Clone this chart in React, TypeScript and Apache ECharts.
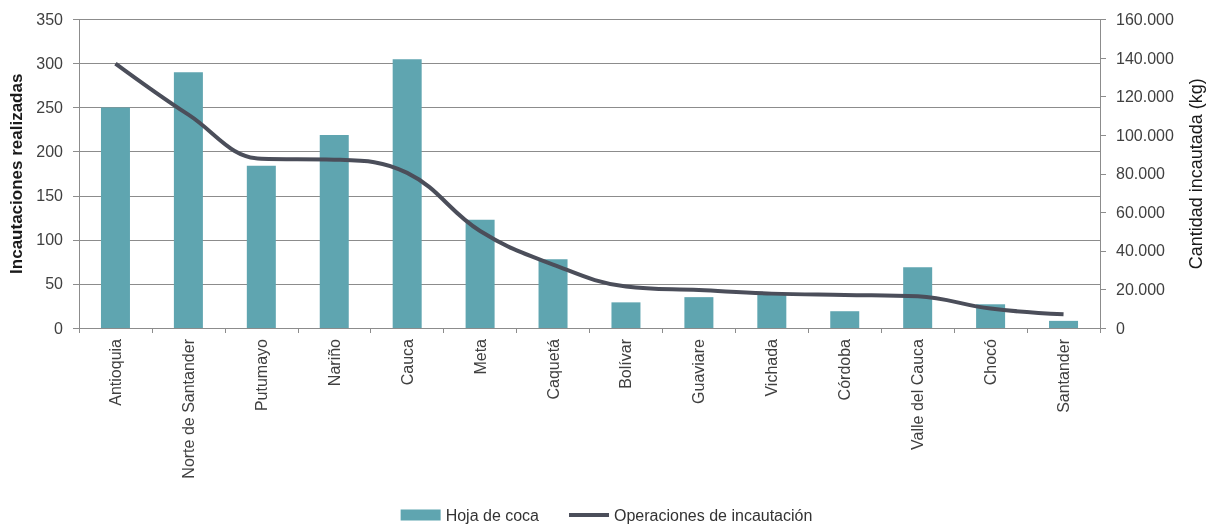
import React, { useEffect, useRef } from "react";
import * as echarts from "echarts";

const categories = [
  "Antioquia", "Norte de Santander", "Putumayo", "Nariño", "Cauca", "Meta", "Caquetá",
  "Bolívar", "Guaviare", "Vichada", "Córdoba", "Valle del Cauca", "Chocó", "Santander",
];
// Hoja de coca – cantidad incautada (kg), right axis
const hojaDeCoca = [
  114300, 132600, 84100, 100100, 139400, 56200, 35700, 13300, 16000, 17400, 8700, 31500, 12300, 3700,
];
// Operaciones de incautación – incautaciones realizadas, left axis
const operaciones = [300, 242, 192, 191, 176, 110, 72, 47, 43, 39, 37.5, 36, 22, 15.6];

const FONT = "'Liberation Sans', Arial, sans-serif";
const FS = 16;

export default function App() {
  const ref = useRef<HTMLDivElement>(null);
  useEffect(() => {
    if (!ref.current) return;
    const chart = echarts.init(ref.current, undefined, { renderer: "svg" });
    const fmt = (v: number) => String(v).replace(/\B(?=(\d{3})+(?!\d))/g, ".");
    chart.setOption({
      animation: false,
      textStyle: { fontFamily: FONT },
      grid: { left: 79, right: 113, top: 19.5, bottom: 200, containLabel: false },
      legend: {
        top: 502,
        left: "center",
        itemWidth: 40,
        itemHeight: 11,
        itemGap: 30,
        textStyle: { fontFamily: FONT, fontSize: FS, color: "#333" },
        data: [
          { name: "Hoja de coca", icon: "rect" },
          { name: "Operaciones de incautación", icon: "path://M0,0L42,0L42,4L0,4Z" },
        ],
      },
      xAxis: {
        type: "category",
        data: categories,
        axisLine: { lineStyle: { color: "#8c8c8c", width: 1 } },
        axisTick: { show: true, length: 5, lineStyle: { color: "#8c8c8c" } },
        axisLabel: {
          rotate: 90,
          margin: 11,
          interval: 0,
          fontFamily: FONT,
          fontSize: FS,
          color: "#404040",
        },
      },
      yAxis: [
        {
          type: "value",
          min: 0,
          max: 350,
          interval: 50,
          name: "Incautaciones realizadas",
          nameLocation: "middle",
          nameGap: 52,
          nameTextStyle: { fontFamily: FONT, fontSize: 17, fontWeight: "bold", color: "#1a1a1a" },
          axisLine: { show: true, lineStyle: { color: "#8c8c8c" } },
          axisTick: { show: true, length: 6, lineStyle: { color: "#8c8c8c" } },
          axisLabel: { margin: 16, fontFamily: FONT, fontSize: FS, color: "#404040" },
          splitLine: { show: true, lineStyle: { color: "#8c8c8c", width: 1 } },
        },
        {
          type: "value",
          min: 0,
          max: 160000,
          interval: 20000,
          name: "Cantidad incautada (kg)",
          nameLocation: "middle",
          nameGap: 87,
          nameTextStyle: { fontFamily: FONT, fontSize: 18, color: "#1a1a1a" },
          axisLine: { show: true, lineStyle: { color: "#8c8c8c" } },
          axisTick: { show: true, length: 6, lineStyle: { color: "#8c8c8c" } },
          axisLabel: {
            margin: 16,
            fontFamily: FONT,
            fontSize: FS,
            color: "#404040",
            formatter: (v: number) => fmt(v),
          },
          splitLine: { show: false },
        },
      ],
      series: [
        {
          name: "Hoja de coca",
          type: "bar",
          yAxisIndex: 1,
          data: hojaDeCoca,
          barWidth: 29,
          itemStyle: { color: "#5fa5b0" },
        },
        {
          name: "Operaciones de incautación",
          type: "line",
          yAxisIndex: 0,
          data: operaciones,
          smooth: 0.4,
          symbol: "none",
          lineStyle: { color: "#4b4e5a", width: 4 },
          itemStyle: { color: "#4b4e5a" },
        },
      ],
    });
    return () => chart.dispose();
  }, []);
  return (
    <div
      ref={ref}
      style={{ position: "fixed", left: 0, top: 0, width: 1213, height: 528 }}
    />
  );
}
